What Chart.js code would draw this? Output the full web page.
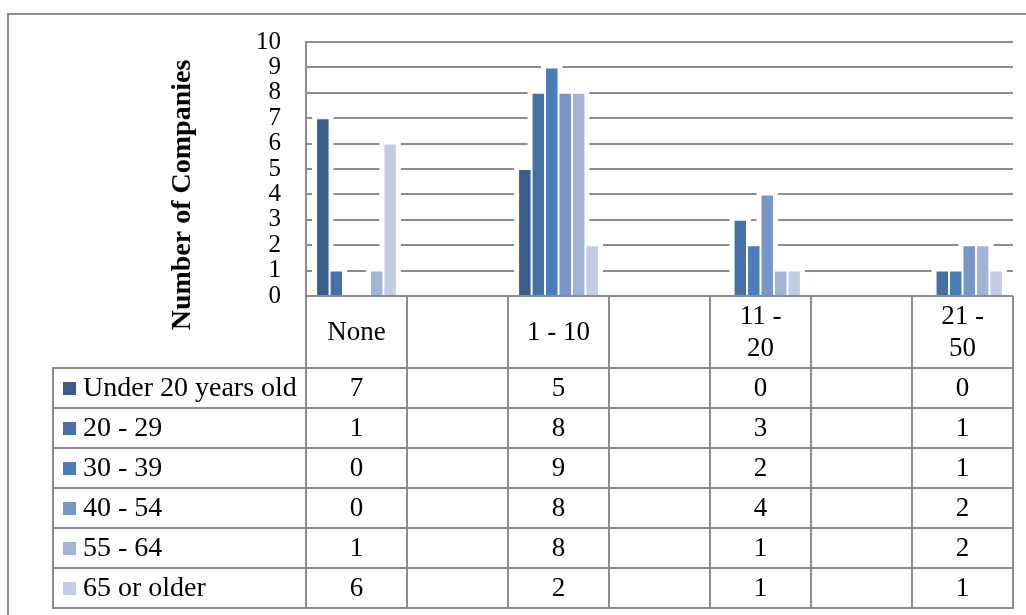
<!DOCTYPE html>
<html>
<head>
<meta charset="utf-8">
<script src="https://cdn.jsdelivr.net/npm/chart.js@4.4.1/dist/chart.umd.min.js"></script>
<style>
  html, body { margin: 0; padding: 0; background: #ffffff; }
  #wrap { width: 1026px; height: 615px; position: relative; }
</style>
</head>
<body>
<div id="wrap"><canvas id="chart" width="1026" height="615"></canvas></div>
<script>
// Company-size bands (blank columns separate the groups)
const categories = ['None', '', '1 - 10', '', ['11 -', '20'], '', ['21 -', '50']];

// Number of companies per age band of the owner
const seriesNames = ['Under 20 years old', '20 - 29', '30 - 39', '40 - 54', '55 - 64', '65 or older'];
const under20   = [7, null, 5, null, 0, null, 0];
const age20to29 = [1, null, 8, null, 3, null, 1];
const age30to39 = [0, null, 9, null, 2, null, 1];
const age40to54 = [0, null, 8, null, 4, null, 2];
const age55to64 = [1, null, 8, null, 1, null, 2];
const age65plus = [6, null, 2, null, 1, null, 1];

const yTickLabels = ['0', '1', '2', '3', '4', '5', '6', '7', '8', '9', '10'];

const seriesColors = ['#395d8b', '#4571a6', '#4a7dba', '#7896c8', '#a1b4d8', '#c2cde4'];
const seriesData = [under20, age20to29, age30to39, age40to54, age55to64, age65plus];

const SERIF = '"Liberation Serif", "Times New Roman", serif';
const LINE = '#8c8c8c';

// Geometry of the data table under the plot
const HEADER_H = 72;
const ROW_H = 40;
const LEGEND_LEFT = 53;

// White halo behind each bar so grid lines stop short of the columns
const barHalo = {
  id: 'barHalo',
  beforeDatasetsDraw(chart) {
    const ctx = chart.ctx;
    ctx.save();
    ctx.fillStyle = '#ffffff';
    chart.data.datasets.forEach((ds, i) => {
      const meta = chart.getDatasetMeta(i);
      meta.data.forEach((bar, j) => {
        const v = ds.data[j];
        if (v === null || v === 0) return;
        const p = bar.getProps(['x', 'y', 'base', 'width'], true);
        ctx.fillRect(p.x - p.width / 2 - 4, p.y - 4, p.width + 8, p.base - p.y + 3);
      });
    });
    ctx.restore();
  }
};

// Data table, legend keys, axis title and outer frame
const dataTable = {
  id: 'dataTable',
  afterDraw(chart) {
    const ctx = chart.ctx;
    const area = chart.chartArea;
    const xs = chart.scales.x;
    const n = categories.length;
    const colW = (area.right - area.left) / n;
    const top = area.bottom;
    const rowsTop = top + HEADER_H;
    const bottom = rowsTop + ROW_H * seriesNames.length;

    ctx.save();
    // outer frame (left and top edges)
    ctx.strokeStyle = LINE;
    ctx.lineWidth = 2;
    ctx.beginPath();
    ctx.moveTo(8, 640);
    ctx.lineTo(8, 14);
    ctx.lineTo(1040, 14);
    ctx.stroke();

    // table grid
    ctx.beginPath();
    for (let i = 0; i <= n; i++) {
      const x = Math.round(area.left + i * colW);
      ctx.moveTo(x, top);
      ctx.lineTo(x, bottom);
    }
    ctx.moveTo(LEGEND_LEFT, rowsTop);
    ctx.lineTo(LEGEND_LEFT, bottom);
    for (let r = 0; r <= seriesNames.length; r++) {
      const y = rowsTop + r * ROW_H;
      ctx.moveTo(LEGEND_LEFT - 1, y);
      ctx.lineTo(area.right + 1, y);
    }
    ctx.stroke();

    // header labels
    ctx.fillStyle = '#000000';
    ctx.font = '27px ' + SERIF;
    ctx.textAlign = 'center';
    ctx.textBaseline = 'middle';
    categories.forEach((lab, i) => {
      const cx = xs.getPixelForValue(i);
      const lines = Array.isArray(lab) ? lab : [lab];
      const lh = 32;
      const y0 = top + HEADER_H / 2 + 1 - (lines.length - 1) * lh / 2;
      lines.forEach((t, k) => ctx.fillText(t, cx, y0 + k * lh));
    });

    // values
    seriesData.forEach((arr, r) => {
      const cy = rowsTop + r * ROW_H + ROW_H / 2 + 1;
      arr.forEach((v, i) => {
        if (v === null) return;
        ctx.fillText(String(v), xs.getPixelForValue(i), cy);
      });
    });

    // legend keys and series names
    ctx.textAlign = 'left';
    ctx.font = '28px ' + SERIF;
    seriesNames.forEach((name, r) => {
      const cy = rowsTop + r * ROW_H + ROW_H / 2;
      ctx.fillStyle = seriesColors[r];
      ctx.fillRect(63, cy - 6, 13, 13);
      ctx.fillStyle = '#000000';
      ctx.fillText(name, 83, cy + 1);
    });

    // vertical axis title
    ctx.translate(183, 195);
    ctx.rotate(-Math.PI / 2);
    ctx.font = 'bold 28px ' + SERIF;
    ctx.textAlign = 'center';
    ctx.textBaseline = 'middle';
    ctx.fillText('Number of Companies', 0, 0);
    ctx.restore();
  }
};

new Chart(document.getElementById('chart'), {
  type: 'bar',
  data: {
    labels: categories,
    datasets: seriesNames.map((name, i) => ({
      label: name,
      data: seriesData[i],
      backgroundColor: seriesColors[i],
      borderColor: '#ffffff',
      borderWidth: 1,
      borderSkipped: 'start',
      categoryPercentage: 0.8,
      barPercentage: 1.0
    }))
  },
  options: {
    responsive: false,
    animation: false,
    devicePixelRatio: 1,
    layout: { padding: { top: 42, right: 13, left: 0, bottom: 0 } },
    plugins: {
      legend: { display: false },
      tooltip: { enabled: false }
    },
    scales: {
      x: {
        grid: { display: false },
        border: { display: false },
        ticks: { display: false },
        afterFit(scale) { scale.height = 615 - 296; }
      },
      y: {
        min: 0,
        max: 10,
        ticks: {
          stepSize: 1,
          autoSkip: false,
          padding: 25,
          color: '#000000',
          font: { family: SERIF, size: 25 },
          callback: (v) => yTickLabels[v]
        },
        grid: { color: LINE, lineWidth: 2, drawTicks: false },
        border: { color: LINE, width: 2 },
        afterFit(scale) { scale.width = 306; }
      }
    }
  },
  plugins: [barHalo, dataTable]
});
</script>
</body>
</html>
